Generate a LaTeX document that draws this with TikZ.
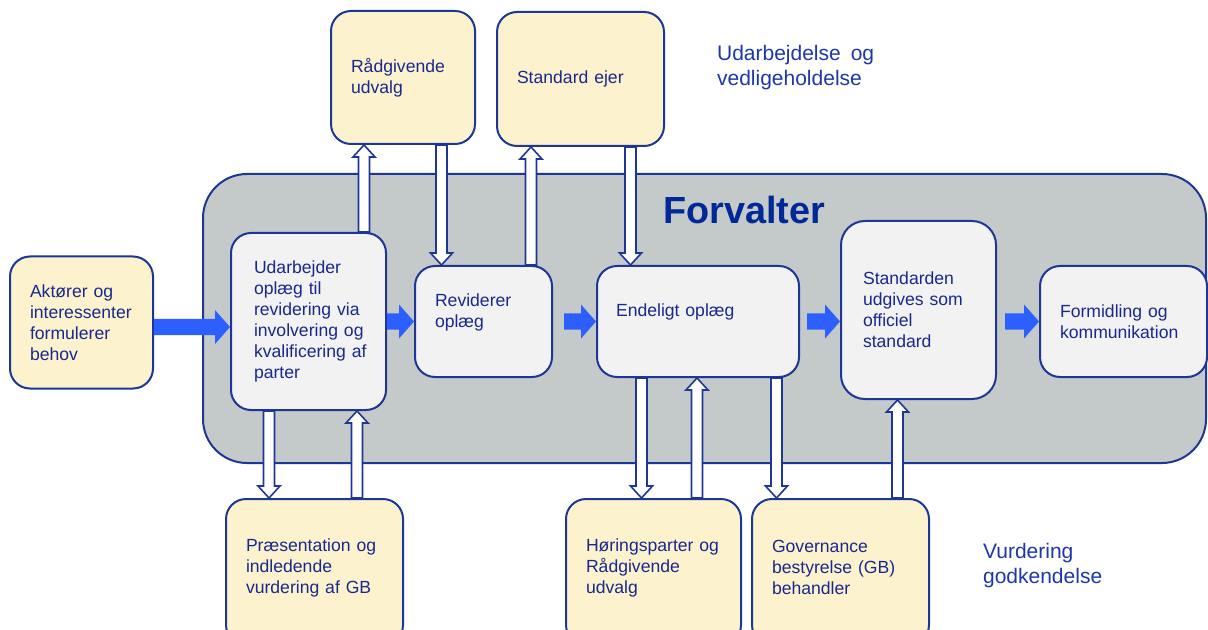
\documentclass[tikz,border=0pt]{standalone}
\usepackage{fontspec}
\setmainfont{Liberation Sans}
\usetikzlibrary{calc}
\definecolor{navy}{RGB}{30,55,150}
\definecolor{txtblue}{RGB}{25,40,140}
\definecolor{lblblue}{RGB}{30,55,170}
\definecolor{titleblue}{RGB}{0,40,150}
\definecolor{flowblue}{RGB}{45,95,255}
\definecolor{bggray}{RGB}{196,201,202}
\definecolor{paleyellow}{RGB}{252,243,206}
\definecolor{palegray}{RGB}{242,242,242}
% hollow vertical arrow: #1 source anchor, #2 target anchor, #3 x position (px)
\newcommand\hollowarrow[3]{%
  \draw[hollow] let \p1=(#1 -| #3,0), \p2=(#2 -| #3,0), \p3=($(#2 -| #3,0)!6pt!(#1 -| #3,0)$) in
    (\x1-2.75pt,\y1) -- (\x1-2.75pt,\y3) -- (\x1-5.5pt,\y3) -- (\x1,\y2) -- (\x1+5.5pt,\y3) -- (\x1+2.75pt,\y3) -- (\x1+2.75pt,\y1) -- cycle;}
% filled horizontal arrow: #1 start, #2 tip (same y)
\newcommand\flowarrow[2]{%
  \fill[flow] let \p1=(#1), \p2=(#2), \p3=($(#2)!7.5pt!(#1)$) in
    (\x1,\y1-4pt) -- (\x3,\y1-4pt) -- (\x3,\y1-8.5pt) -- (\x2,\y1) -- (\x3,\y1+8.5pt) -- (\x3,\y1+4pt) -- (\x1,\y1+4pt) -- cycle;}
\tikzset{
  box/.style={draw=navy, line width=1pt, rounded corners=10pt, align=left, text=txtblue,
    font=\fontsize{8.8}{10.5}\selectfont, inner ysep=0pt, inner xsep=10pt},
  ext/.style={box, fill=paleyellow},
  int/.style={box, fill=palegray},
  hollow/.style={draw=navy, fill=white, line width=0.8pt, line join=miter},
  flow/.style={fill=flowblue},
  lbl/.style={text=lblblue, font=\fontsize{10.5}{12.5}\selectfont, align=left, inner sep=0pt, anchor=north west},
}
\begin{document}
\begin{tikzpicture}[x=0.5pt, y=-0.5pt]
\useasboundingbox (0,0) rectangle (1208,630);
\fill[white] (0,0) rectangle (1208,630);
% background
\node[draw=navy, fill=bggray, line width=1pt, rounded corners=22pt, minimum width=501.5pt, minimum height=144.5pt, inner sep=0pt] (bg) at (704.5,318.5) {};
\node[text=titleblue, font=\fontsize{18.9}{22}\selectfont\bfseries, inner sep=0pt, anchor=base] (title) at (744,223.3) {Forvalter};
% boxes
\node[ext, minimum width=71.5pt, minimum height=66pt, text width=51.5pt] (aktor) at (81.5,322.5) {Aktører og\\\mbox{interessenter}\\formulerer\\behov};
\node[int, minimum width=77.5pt, minimum height=88.5pt, text width=54.5pt, inner xsep=11.5pt] (udarb) at (308.5,321.5) {Udarbejder\\oplæg til\\\mbox{revidering via}\\\mbox{involvering og}\\\mbox{kvalificering af}\\parter};
\node[int, minimum width=68.5pt, minimum height=55.5pt, text width=48.5pt, text depth=21pt] (rev) at (483.5,321.5) {Reviderer\\oplæg};
\node[int, minimum width=101pt, minimum height=55.5pt, text width=82pt, inner xsep=9.5pt, text depth=11pt] (endel) at (698,321.5) {Endeligt oplæg};
\node[int, minimum width=77.5pt, minimum height=89pt, text width=55.5pt, inner xsep=11pt, rounded corners=12pt] (stand) at (918.5,310) {Standarden\\\mbox{udgives som}\\officiel\\standard};
\node[int, minimum width=83.5pt, minimum height=55.5pt, text width=63.5pt] (form) at (1123.5,321.5) {Formidling og\\\mbox{kommunikation}};
\node[ext, minimum width=72pt, minimum height=66.5pt, text width=52pt] (radg) at (403,77.5) {Rådgivende\\udvalg};
\node[ext, minimum width=83.5pt, minimum height=67pt, text width=63.5pt] (ejer) at (580.5,79) {Standard ejer};
\node[ext, minimum width=88.5pt, minimum height=73pt, text width=68.5pt, text depth=27pt] (praes) at (314.5,572) {\mbox{Præsentation og}\\indledende\\\mbox{vurdering af GB}};
\node[ext, minimum width=87.5pt, minimum height=73pt, text width=67.5pt, text depth=27pt] (hor) at (653.5,572) {\mbox{Høringsparter og}\\Rådgivende\\udvalg};
\node[ext, minimum width=88.5pt, minimum height=73pt, text width=68.5pt, text depth=25.2pt] (gov) at (840.5,572) {Governance\\\mbox{bestyrelse (GB)}\\behandler};
% side labels
\node[lbl] (lblA) at (716.7,45) {Udarbejdelse\hspace{5pt}og\\vedligeholdelse};
\node[lbl] (lblB) at (982.7,542.7) {Vurdering\\godkendelse};
% flow arrows
\coordinate (f1) at ($(aktor.east)+(0,4.5)$);
\flowarrow{f1}{udarb.west |- f1}
\flowarrow{udarb.east |- rev.west}{rev.west}
\coordinate (f3) at ($(rev.east)+(11,0)$);
\flowarrow{f3}{endel.west}
\coordinate (f4) at ($(endel.east)+(7,0)$);
\flowarrow{f4}{stand.west |- f4}
\coordinate (f5) at ($(stand.east |- form.west)+(8,0)$);
\flowarrow{f5}{form.west}
% hollow arrows
\hollowarrow{udarb.north}{radg.south}{364}
\hollowarrow{radg.south}{rev.north}{441.5}
\hollowarrow{rev.north}{ejer.south}{531}
\hollowarrow{ejer.south}{endel.north}{630.5}
\hollowarrow{udarb.south}{praes.north}{269}
\hollowarrow{praes.north}{udarb.south}{357}
\hollowarrow{endel.south}{hor.north}{641.5}
\hollowarrow{hor.north}{endel.south}{697}
\hollowarrow{endel.south}{gov.north}{776.5}
\hollowarrow{gov.north}{stand.south}{897.5}
\end{tikzpicture}
\end{document}
